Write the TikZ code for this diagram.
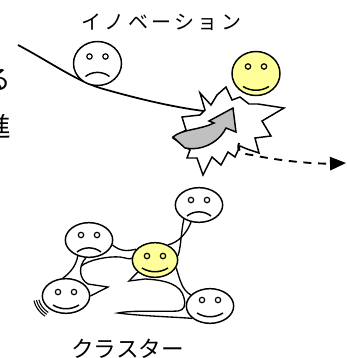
\documentclass[tikz,border=0pt]{standalone}
\usepackage{fontspec}
\newfontfamily\jpfont{Noto Sans CJK JP}
\newfontfamily\jpwide[LetterSpace=17]{Noto Sans CJK JP}
\definecolor{smileyellow}{RGB}{255,255,153}
\definecolor{arrowgray}{RGB}{192,192,192}
\usetikzlibrary{arrows.meta,shapes.geometric}

\begin{document}
\begin{tikzpicture}[x=0.75pt, y=-0.75pt,
    face/.style={ellipse, draw, line width=1.1pt, fill=white, inner sep=0pt,
                 minimum width=35.5pt, minimum height=26pt},
    bigface/.style={face, minimum width=36pt, minimum height=33pt},
    eye/.style={line width=0.9pt},
    mouth/.style={line width=1.1pt},
    web/.style={line width=1pt},
    track/.style={line width=1.3pt},
    trail/.style={line width=1.4pt, dash pattern=on 6pt off 5pt,
                  -{Triangle[length=12pt, width=10pt]}},
    burst/.style={draw, fill=white, line width=1.1pt},
    turn/.style={draw, fill=arrowgray, line width=1.1pt}]
    \useasboundingbox (0,0) rectangle (347,358);

    % words running off the left edge
    \node[font=\jpfont\fontsize{20pt}{20pt}\selectfont, inner sep=0pt,
          anchor=base east] (wordA) at (11,89) {る};
    \node[font=\jpfont\fontsize{20pt}{20pt}\selectfont, inner sep=0pt,
          anchor=base east] (wordB) at (11,136) {進};

    % innovation: the path, the unhappy one, the hit
    \node[font=\jpwide\fontsize{15pt}{15pt}\selectfont, inner sep=0pt,
          anchor=base west] (innov) at (81,29) {イノベーション};
    \coordinate (src) at (18,45);
    \coordinate (hit) at (212,112);
    \draw[track] (src) .. controls (50,62) and (75,80) .. (100,88)
      .. controls (135,98) and (175,108) .. (hit);
    \node[bigface] (sad) at (97.5,63.5) {};

    % starburst
    \draw[burst] (200,93) -- (211,105) -- (217,95) -- (226,87) -- (232,100)
      -- (240,97) -- (249,104) -- (258,104) -- (284,108) -- (262,121)
      -- (271,136) -- (255,138) -- (259,153) -- (247,149) -- (240,146)
      -- (235,157) -- (228,152) -- (221,165) -- (212,157) -- (203,175)
      -- (197,158) -- (187,158) -- (190,150) -- (173,138) -- (186,130)
      -- (182,117) -- (200,115) -- (205,110) -- cycle;

    % turning arrow
    \draw[turn] (173,137) .. controls (182,129) and (200,130) .. (214,123)
      -- (209,121) -- (233,108) -- (236,132) -- (226,128)
      .. controls (218,144) and (200,151) .. (185,148) -- cycle;

    % dashed way out
    \coordinate (exit) at (239,143);
    \coordinate (away) at (346,163);
    \draw[trail] (exit) .. controls (236,151) and (242,154) .. (252,155)
      .. controls (285,162) and (320,164) .. (away);

    \node[bigface, fill=smileyellow] (glad) at (256,73.5) {};

    % cluster faces
    \node[face] (f1) at (199,205) {};
    \node[face] (f2) at (89,240) {};
    \node[face, fill=smileyellow, minimum width=34pt] (f3) at (155,260) {};
    \node[face] (f4) at (66,296) {};
    \node[face] (f5) at (210,306) {};

    % eyes
    \foreach \f/\dy in {sad/-7, glad/-7, f1/-5, f2/-5, f3/-4, f4/-4, f5/-6}
      \draw[eye, shift={(\f)}] (-8,\dy) circle[radius=2.7]
        (8,\dy) circle[radius=2.7];
    % smiles
    \foreach \f/\dy in {glad/5, f3/0, f4/1, f5/-1}
      \draw[mouth, shift={(\f)}] (-13,{8+\dy})
        .. controls (-5,{13+\dy}) and (5,{13+\dy}) .. (13,{8+\dy});
    % frowns
    \foreach \f/\dy in {sad/1, f1/-1, f2/0}
      \draw[mouth, shift={(\f)}] (-12,{12+\dy})
        .. controls (-5,{6.5+\dy}) and (5,{6.5+\dy}) .. (12,{12+\dy});

    % webbing between the faces
    \draw[web] (f2.-12) .. controls (121,252) and (128,251) .. (f3.150);
    \draw[web] (f3.50) .. controls (178,243) and (187,233) .. (f1.-115);
    \draw[web] (f1.-137) .. controls (181,232) and (181,248) .. (f3.10);
    \draw[web] (f3.-20) .. controls (180,280) and (182,290) .. (f5.150);
    \draw[web] (f3.-145) -- (129,281) -- (145,279)
      .. controls (165,280) and (181,284) .. (184,298)
      .. controls (186,306) and (184,310) .. (178,311)
      .. controls (160,312) and (132,310) .. (118,313)
      .. controls (140,316) and (176,317) .. (f5.-145);
    \draw[web] (f2.-125) .. controls (76,266) and (70,273) .. (f4.100);
    \draw[web] (f2.-100) .. controls (78,266) and (79,279) ..
      coordinate[pos=0.3] (bay) (88,284) -- (108,287) -- (f4.0);
    \draw[web] (bay) .. controls (88,260) and (108,256) .. (120,257)
      .. controls (127,258) and (130,260) .. (f3.175);

    % wobble beside the lower left face
    \foreach \rx/\ry in {27.5/21.5, 30/24, 32.5/26.5}
      \draw[line width=0.8pt] ([shift={(130:{\rx} and {\ry})}]f4.center)
        arc[start angle=130, end angle=170, x radius=\rx, y radius=\ry];

    \node[font=\jpfont\fontsize{17pt}{17pt}\selectfont, inner sep=0pt,
          anchor=base west] (clus) at (71,357) {クラスター};
\end{tikzpicture}
\end{document}
